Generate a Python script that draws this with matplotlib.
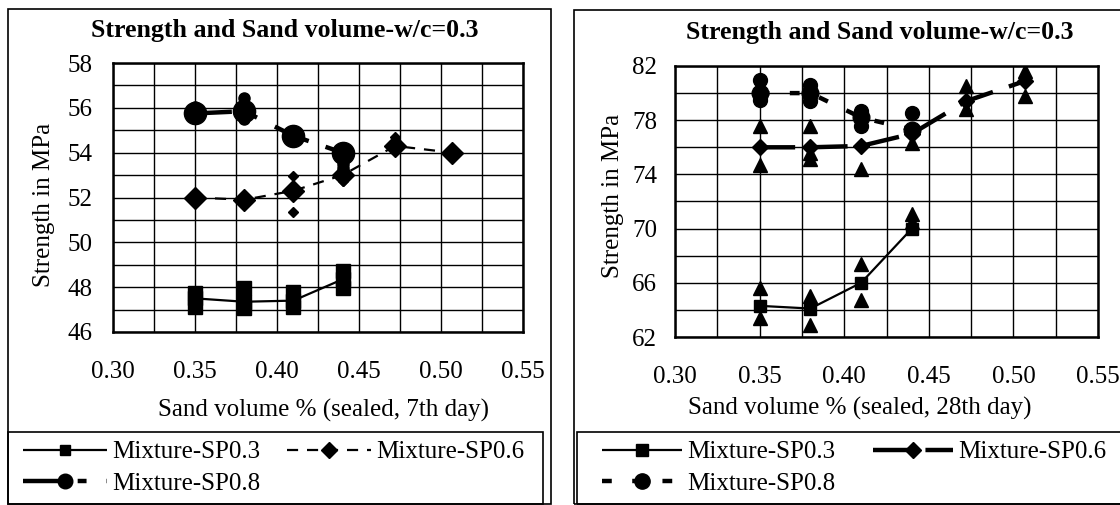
import matplotlib
matplotlib.use("Agg")
import matplotlib.pyplot as plt
from matplotlib.patches import Rectangle
from matplotlib.ticker import MultipleLocator
from matplotlib.lines import Line2D

plt.rcParams.update({
    "font.family": ["Liberation Serif", "DejaVu Serif"],
    "font.size": 18,
    "lines.solid_capstyle": "butt",
    "lines.dash_capstyle": "butt",
})

W, H = 1120, 505

# ── 7th day (left) ──────────────────────────────────────────────────────────
sand_short = [0.35, 0.38, 0.41, 0.44]
sand_long = [0.35, 0.38, 0.41, 0.44, 0.472, 0.507]

sp03_7 = [47.5, 47.35, 47.4, 48.35]
sp06_7 = [52.0, 51.9, 52.3, 53.0, 54.3, 54.0]
sp08_7 = [55.75, 55.85, 54.75, 54.0]

# replicate points (scatter around the means)
sp03_7_rep_x = [0.35, 0.35, 0.38, 0.38, 0.41, 0.41, 0.44, 0.44]
sp03_7_rep_y = [47.1, 47.75, 47.05, 47.95, 47.1, 47.8, 47.95, 48.7]
sp06_7_rep_x = [0.41, 0.41, 0.44, 0.472]
sp06_7_rep_y = [52.95, 51.35, 52.75, 54.7]
sp08_7_rep_x = [0.35, 0.35, 0.38, 0.38, 0.44, 0.44]
sp08_7_rep_y = [56.05, 55.6, 56.45, 55.5, 53.5, 53.3]

# ── 28th day (right) ────────────────────────────────────────────────────────
sp03_28 = [64.3, 64.1, 66.0, 70.0]
sp06_28 = [76.0, 76.0, 76.1, 77.0, 79.4, 80.9]
sp08_28 = [80.0, 80.0, 78.2, 77.3]

tri_28_x = [0.35, 0.35, 0.38, 0.38, 0.41, 0.41, 0.44, 0.44,
            0.35, 0.35, 0.38, 0.38, 0.38, 0.41, 0.44, 0.472, 0.472, 0.507, 0.507]
tri_28_y = [65.6, 63.4, 65.0, 62.9, 67.4, 64.7, 71.1, 70.5,
            77.6, 74.7, 77.6, 75.6, 75.1, 74.4, 76.3, 80.5, 78.8, 81.6, 79.8]
sp08_28_rep_x = [0.35, 0.35, 0.38, 0.38, 0.41, 0.41, 0.44]
sp08_28_rep_y = [81.0, 79.5, 80.6, 79.4, 78.7, 77.6, 78.5]

labels = ["Mixture-SP0.3", "Mixture-SP0.6", "Mixture-SP0.8"]
title = "Strength and Sand volume-w/c=0.3"
yticks_7 = [46, 48, 50, 52, 54, 56, 58]
yticks_28 = [62, 66, 70, 74, 78, 82]


def fx(px):
    return px / W


def fy(py):
    return 1 - py / H


fig = plt.figure(figsize=(W / 100, H / 100), dpi=100)
fig.patch.set_facecolor("white")


def style_axes(ax, yticks, yminor, ypad):
    ax.set_xlim(0.30, 0.55)
    ax.set_ylim(yticks[0], yticks[-1])
    ax.xaxis.set_major_locator(MultipleLocator(0.05))
    ax.xaxis.set_minor_locator(MultipleLocator(0.025))
    ax.set_yticks(yticks)
    ax.yaxis.set_minor_locator(MultipleLocator(yminor))
    ax.set_xticklabels([f"{t:.2f}" for t in ax.get_xticks()])
    ax.grid(True, which="both", color="black", lw=1.0)
    ax.tick_params(which="both", length=0)
    ax.tick_params(axis="x", pad=21)
    ax.tick_params(axis="y", pad=ypad)
    for s in ax.spines.values():
        s.set_linewidth(1.8)
    ax.set_axisbelow(True)


def legend_box(handles, x_px, spacing, hlen):
    # column-major fill: SP0.3, SP0.8 in col 1, SP0.6 in col 2
    fig.legend([handles[0], handles[2], handles[1]],
               [labels[0], labels[2], labels[1]], ncol=2, frameon=False,
               loc="upper left", bbox_to_anchor=(fx(x_px), fy(441)), borderpad=0,
               borderaxespad=0, handlelength=hlen, handletextpad=0.22,
               columnspacing=spacing, labelspacing=0.36, numpoints=1)


# ════════════════════════ left panel ═══════════════════════════════════════
ax1 = fig.add_axes([fx(113), fy(332), fx(523 - 113), (332 - 63) / H])
style_axes(ax1, yticks_7, 1, 15)

dash06_l = (0, (5, 4))
dash08_l = (0, (8.3, 4, 2, 4.5))

ax1.plot(sp03_7_rep_x, sp03_7_rep_y, ls="none", marker="s", ms=9.5, color="black", zorder=3)
ax1.plot(sp06_7_rep_x, sp06_7_rep_y, ls="none", marker="D", ms=5, color="black", zorder=3)
ax1.plot(sp08_7_rep_x, sp08_7_rep_y, ls="none", marker="o", ms=8, color="black", zorder=3)

ax1.plot(sand_short, sp03_7, color="black", lw=1.6, marker="s", ms=10, zorder=4)
ax1.plot(sand_long, sp06_7, color="black", lw=1.6, ls=dash06_l, marker="D", ms=11, zorder=4)
ax1.plot(sand_short, sp08_7, color="black", lw=3.2, ls=dash08_l, marker="o", ms=16, zorder=4)

fig.text(fx(285), fy(30), title, ha="center", va="center", fontweight="bold", fontsize=18.6)
fig.text(fx(323), fy(410), "Sand volume % (sealed, 7th day)", ha="center", va="center")
fig.text(fx(44), fy(205), "Strength in MPa", ha="center", va="center", rotation=90)

legend_box([
    Line2D([], [], color="black", lw=1.6, marker="s", ms=7.5),
    Line2D([], [], color="black", lw=1.6, ls=dash06_l, marker="D", ms=8),
    Line2D([], [], color="black", lw=3.2, ls=dash08_l, marker="o", ms=10.5),
], 23, 1.05, 3.36)

fig.add_artist(Rectangle((fx(8), fy(504)), fx(551 - 8), (504 - 9) / H,
                         transform=fig.transFigure, fill=False, lw=1.2, ec="black"))
fig.add_artist(Rectangle((fx(8), fy(504)), fx(543 - 8), (504 - 432) / H,
                         transform=fig.transFigure, fill=False, lw=1.2, ec="black"))

# ════════════════════════ right panel ══════════════════════════════════════
ax2 = fig.add_axes([fx(675), fy(337), fx(1098 - 675), (337 - 66) / H])
style_axes(ax2, yticks_28, 2, 13)

dash06_r = (0, (8, 3.8))
dash08_r = (0, (2.2, 4.6))

ax2.plot(tri_28_x, tri_28_y, ls="none", marker="^", ms=9.5, color="black", zorder=3)
ax2.plot(sp08_28_rep_x, sp08_28_rep_y, ls="none", marker="o", ms=10, color="black", zorder=3)

ax2.plot(sand_short, sp03_28, color="black", lw=1.6, marker="s", ms=9, zorder=4)
ax2.plot(sand_long, sp06_28, color="black", lw=3.2, ls=dash06_r, marker="D", ms=8.5, zorder=4)
ax2.plot(sand_short, sp08_28, color="black", lw=3.2, ls=dash08_r, marker="o", ms=12, zorder=4)

fig.text(fx(880), fy(32), title, ha="center", va="center", fontweight="bold", fontsize=18.6)
fig.text(fx(860), fy(408), "Sand volume % (sealed, 28th day)", ha="center", va="center")
fig.text(fx(613), fy(196), "Strength in MPa", ha="center", va="center", rotation=90)

legend_box([
    Line2D([], [], color="black", lw=1.6, marker="s", ms=8),
    Line2D([], [], color="black", lw=3.2, ls=dash06_r, marker="D", ms=8),
    Line2D([], [], color="black", lw=3.2, ls=dash08_r, marker="o", ms=11),
], 602, 1.5, 3.2)

fig.add_artist(Rectangle((fx(574), fy(504)), fx(1125 - 574), (504 - 10) / H,
                         transform=fig.transFigure, fill=False, lw=1.2, ec="black"))
fig.add_artist(Rectangle((fx(577), fy(504)), fx(1125 - 577), (504 - 432) / H,
                         transform=fig.transFigure, fill=False, lw=1.2, ec="black"))

fig.savefig("out.png", dpi=100, facecolor="white")
